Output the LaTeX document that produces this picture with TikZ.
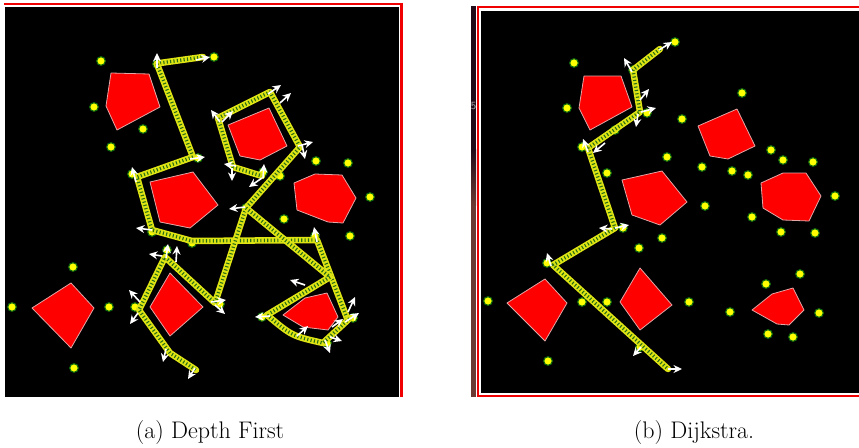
\documentclass[tikz,border=0pt]{standalone}
\usetikzlibrary{arrows.meta}
\definecolor{obst}{RGB}{255,0,0}
\definecolor{obstedge}{RGB}{228,165,165}
\definecolor{wpfill}{RGB}{255,255,0}
\definecolor{wpedge}{RGB}{15,105,15}
\definecolor{cbody}{RGB}{222,228,20}
\definecolor{clink}{RGB}{40,110,20}
\definecolor{framered}{RGB}{240,0,0}
\definecolor{stripdark}{RGB}{34,12,26}
\definecolor{stripbrown}{RGB}{108,58,50}

\tikzset{
  obstacle/.style={fill=obst, draw=obstedge, line width=0.8pt, line join=round},
  waypt/.style={fill=wpfill, draw=wpedge, line width=1.1pt},
  chainbase/.style={draw=cbody, line width=6.5pt, line join=round, line cap=round},
  chainmesh/.style={draw=clink, line width=3.4pt, line join=round, dash pattern=on 1.1pt off 2.3pt},
  wtip/.style={draw=white, line width=1.6pt, -{Stealth[length=8.5pt,width=8pt]}},
  caption/.style={font=\fontsize{24}{28}\selectfont, anchor=base, inner sep=0pt},
}

% a robot path drawn as a yellow chain of green links
\newcommand\chainpath[1]{\draw[chainbase] #1; \draw[chainmesh] #1;}

\begin{document}
\begin{tikzpicture}[x=1pt,y=-1pt]
\useasboundingbox (0,0) rectangle (859,447);
\fill[white] (0,0) rectangle (859,447);

% ---------------- panel (a): depth first ----------------
\fill[black] (5,7) rectangle (399,397);
\fill[framered] (4,3) rectangle (403,5.2);
\fill[framered] (400,3) rectangle (403,397);

\draw[obstacle] (111,73) -- (149,74) -- (160,107) -- (117,130) -- (106,106) -- cycle;
\draw[obstacle] (150,182) -- (193,172) -- (218,205) -- (190,228) -- (160,222) -- cycle;
\draw[obstacle] (228,125) -- (269,108) -- (287,146) -- (260,160) -- (240,156) -- cycle;
\draw[obstacle] (294,183) -- (315,174) -- (342,175) -- (356,198) -- (343,223) -- (328,222) -- (297,210) -- cycle;
\draw[obstacle] (32,308) -- (71,283) -- (94,308) -- (71,348) -- cycle;
\draw[obstacle] (150,307) -- (170,273) -- (203,307) -- (170,336) -- cycle;
\draw[obstacle] (283,315) -- (305,298) -- (327,293) -- (338,317) -- (328,330) -- (303,327) -- cycle;

\foreach \p in {(101,61),(94,107),(143,129),(111,147),(214,57),(316,161),(348,163),
  (370,197),(280,176),(284,219),(350,236),(73,267),(12,307),(109,307),(74,368),
  (157,64),(198,158),(132,174),(152,232),(192,243),(263,172),(220,304),(167,250),
  (135,307),(262,317),(353,318),(327,343),(315,236),(246,208)}
  \draw[waypt] \p circle (4.3);

\chainpath{(160,63) -- (203,57)}
\chainpath{(157,64) -- (193,157)}
\chainpath{(193,157) -- (137,177) -- (152,230) -- (192,241) -- (317,240) -- (347,318)}
\chainpath{(218,118) -- (270,92) -- (300,147) -- (246,208)}
\chainpath{(218,118) -- (233,167) -- (262,176)}
\chainpath{(246,208) -- (215,303) -- (165,257) -- (139,310) -- (170,353) -- (196,370)}
\chainpath{(246,208) -- (330,277) -- (267,315)}
\chainpath{(267,315) .. controls (292,336) .. (323,343) -- (350,318)}

\draw[wtip] (157,68) -- (157,53);
\draw[wtip] (196,60) -- (210,57);
\draw[wtip] (190,159) -- (205,157);
\draw[wtip] (136,182) -- (132,167);
\draw[wtip] (152,230) -- (136,228);
\draw[wtip] (236,166) -- (224,164);
\draw[wtip] (232,168) -- (232,181);
\draw[wtip] (220,122) -- (211,110);
\draw[wtip] (222,122) -- (233,111);
\draw[wtip] (268,94) -- (281,85);
\draw[wtip] (280,103) -- (291,93);
\draw[wtip] (298,146) -- (313,142);
\draw[wtip] (302,145) -- (305,159);
\draw[wtip] (263,178) -- (264,164);
\draw[wtip] (262,178) -- (249,187);
\draw[wtip] (245,207) -- (229,209);
\draw[wtip] (317,242) -- (314,227);
\draw[wtip] (305,285) -- (290,280);
\draw[wtip] (270,316) -- (255,317);
\draw[wtip] (297,336) -- (308,326);
\draw[wtip] (211,302) -- (226,300);
\draw[wtip] (215,305) -- (225,314);
\draw[wtip] (348,312) -- (355,297);
\draw[wtip] (345,322) -- (359,313);
\draw[wtip] (325,340) -- (330,353);
\draw[wtip] (330,337) -- (342,341);
\draw[wtip] (332,327) -- (343,319);
\draw[wtip] (166,258) -- (168,244);
\draw[wtip] (176,262) -- (177,246);
\draw[wtip] (162,256) -- (149,254);
\draw[wtip] (140,302) -- (129,290);
\draw[wtip] (138,313) -- (130,324);
\draw[wtip] (166,349) -- (163,362);
\draw[wtip] (195,368) -- (188,379);

% ---------------- panel (b): Dijkstra ----------------
\fill[stripdark] (471,6) rectangle (476,150);
\shade[top color=stripdark, bottom color=stripbrown] (471,149.5) rectangle (476,205);
\fill[stripbrown] (471,204.5) rectangle (476,397);
\node[text=gray!60, font=\sffamily\fontsize{11}{11}\selectfont, inner sep=0pt] (cut5) at (473.5,106) {5};
\fill[black] (481,10.5) rectangle (859,393);
\fill[framered] (477,6) rectangle (859,8.2);
\fill[framered] (477,6) rectangle (479.3,397);
\fill[framered] (477,395) rectangle (859,397);

\draw[obstacle] (584,76) -- (621,76) -- (632,107) -- (590,130) -- (579,108) -- cycle;
\draw[obstacle] (698,126) -- (737,109) -- (755,146) -- (728,159) -- (710,156) -- cycle;
\draw[obstacle] (622,180) -- (662,171) -- (687,202) -- (660,225) -- (632,215) -- cycle;
\draw[obstacle] (761,183) -- (783,173) -- (806,173) -- (821,196) -- (809,221) -- (783,220) -- (763,208) -- cycle;
\draw[obstacle] (507,303) -- (545,279) -- (567,303) -- (545,341) -- cycle;
\draw[obstacle] (620,302) -- (640,268) -- (672,305) -- (640,330) -- cycle;
\draw[obstacle] (752,310) -- (772,294) -- (793,288) -- (804,310) -- (789,325) -- (777,324) -- cycle;

\foreach \p in {(574,63),(567,108),(607,173),(667,157),(647,113),(615,130),(675,42),
  (742,93),(682,119),(702,167),(732,171),(748,175),(771,150),(783,160),(813,162),
  (835,196),(705,206),(623,228),(662,238),(639,248),(547,263),(488,301),(582,302),
  (607,302),(548,361),(640,347),(752,217),(781,232),(815,233),(800,274),(766,284),
  (689,302),(730,312),(819,313),(768,334),(793,337),(582,147),(633,70)}
  \draw[waypt] \p circle (4.3);

\chainpath{(660,49) -- (633,70) -- (640,112) -- (588,148) -- (615,228) -- (553,265) -- (668,369)}

\draw[wtip] (659,50) -- (672,42);
\draw[wtip] (632,72) -- (624,58);
\draw[wtip] (640,100) -- (649,89);
\draw[wtip] (641,112) -- (656,108);
\draw[wtip] (638,114) -- (636,127);
\draw[wtip] (605,143) -- (593,153);
\draw[wtip] (588,152) -- (583,139);
\draw[wtip] (615,228) -- (629,225);
\draw[wtip] (612,229) -- (599,228);
\draw[wtip] (551,266) -- (547,253);
\draw[wtip] (641,347) -- (633,356);
\draw[wtip] (668,369) -- (682,369);

% ---------------- captions ----------------
\node[caption] (capa) at (210,438) {(a) Depth First};
\node[caption] (capb) at (694,438) {(b) Dijkstra.};
\end{tikzpicture}
\end{document}
